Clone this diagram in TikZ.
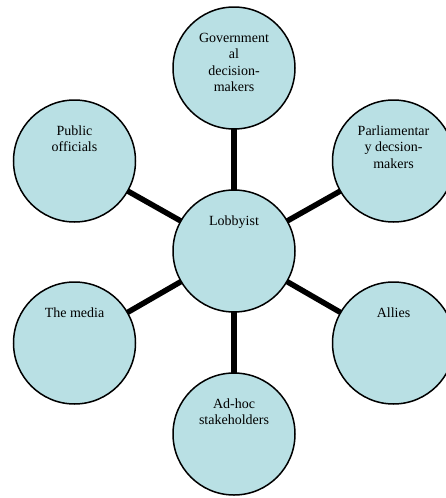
\documentclass[tikz,border=0pt]{standalone}
\usepackage{fontspec}
\setmainfont{Liberation Serif}
\usetikzlibrary{backgrounds}
\definecolor{bubblefill}{RGB}{185,224,228}
\begin{document}
\begin{tikzpicture}[x=1pt,y=-1pt,
  bubble/.style={circle, draw=black, line width=1.5pt, fill=bubblefill,
                 minimum size=122pt, inner sep=0pt},
  caption/.style={anchor=north, inner sep=0pt, align=center,
                  font=\fontsize{14}{16.5}\selectfont},
  spoke/.style={line width=5.5pt, draw=black}]
\useasboundingbox (0,0) rectangle (446,498);

% hub and the six surrounding bubbles
\node[bubble] (hub)    at (234,251)   {};
\node[bubble] (gov)    at (234,68)    {};
\node[bubble] (parl)   at (393.5,161) {};
\node[bubble] (allies) at (393.5,343) {};
\node[bubble] (adhoc)  at (234,434)   {};
\node[bubble] (media)  at (74.5,343)  {};
\node[bubble] (public) at (74.5,161)  {};

% spokes, drawn beneath the bubbles
\begin{pgfonlayer}{background}
  \foreach \n in {gov,parl,allies,adhoc,media,public}
    \draw[spoke] (hub.center) -- (\n.center);
\end{pgfonlayer}

% captions near the top of each bubble
\node[caption] (hub-t)    at ([yshift=37.5pt]hub.center)    {\strut Lobbyist};
\node[caption] (gov-t)    at ([yshift=37.5pt]gov.center)    {\strut Government\\al\\decision-\\makers};
\node[caption] (parl-t)   at ([yshift=37.5pt]parl.center)   {\strut Parliamentar\\y decsion-\\makers};
\node[caption] (allies-t) at ([yshift=37.5pt]allies.center) {\strut Allies};
\node[caption] (adhoc-t)  at ([yshift=37.5pt]adhoc.center)  {\strut Ad-hoc\\stakeholders};
\node[caption] (media-t)  at ([yshift=37.5pt]media.center)  {\strut The media};
\node[caption] (public-t) at ([yshift=37.5pt]public.center) {\strut Public\\officials};
\end{tikzpicture}
\end{document}
